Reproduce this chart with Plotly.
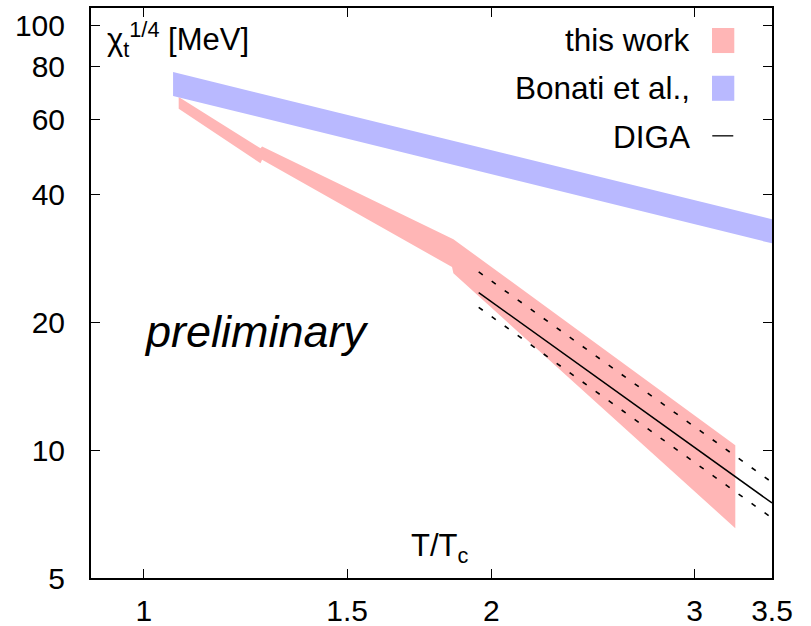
import numpy as np
import plotly.graph_objects as go

# ---------------- data ----------------
# this work: lattice band (T/Tc, lower, upper)  [MeV]
pink_T  = [1.072, 1.262, 1.266, 1.849, 1.854, 3.253]
pink_lo = [63.7, 47.4, 48.3, 27.0, 26.1, 6.55]
pink_hi = [67.9, 51.4, 51.9, 31.4, 31.4, 10.27]

# Bonati et al. band
bonati_T  = [1.060, 2.0, 3.5]
bonati_lo = [68.3, 44.7, 30.7]
bonati_hi = [77.7, 50.9, 35.0]

# DIGA: central line and uncertainty lines
diga_T  = [1.95, 3.5]
diga_c  = [23.5, 7.51]
diga_hi = [26.3, 8.40]
diga_lo = [21.7, 6.92]

x_ticks = [1, 1.5, 2, 3, 3.5]
y_ticks = [5, 10, 20, 40, 60, 80, 100]

PINK = "#ffb6b6"
BLUE = "#b9b9ff"
FONT = "Liberation Sans, Arial, Helvetica, sans-serif"

fig = go.Figure()

# pink band
fig.add_trace(go.Scatter(
    x=pink_T + pink_T[::-1], y=pink_hi + pink_lo[::-1],
    fill="toself", fillcolor=PINK, line=dict(width=0, color=PINK),
    mode="lines", showlegend=False, hoverinfo="skip"))

# blue band
fig.add_trace(go.Scatter(
    x=bonati_T + bonati_T[::-1], y=bonati_hi + bonati_lo[::-1],
    fill="toself", fillcolor=BLUE, line=dict(width=0, color=BLUE),
    mode="lines", showlegend=False, hoverinfo="skip"))

# DIGA lines
fig.add_trace(go.Scatter(x=diga_T, y=diga_c, mode="lines",
                         line=dict(color="black", width=1.5), showlegend=False))
for yy in (diga_hi, diga_lo):
    fig.add_trace(go.Scatter(x=diga_T, y=yy, mode="lines",
                             line=dict(color="black", width=1.6, dash="5px,11px"),
                             showlegend=False))

# ---------------- layout ----------------
W, H = 811, 626
L, R, T, B = 91, 39.3, 8.3, 48.3
pw, ph = W - L - R, H - T - B

def px(xp):
    return (xp - L) / pw

def py(yp):
    return (H - B - yp) / ph

fig.update_layout(
    width=W, height=H,
    margin=dict(l=L, r=R, t=T, b=B, pad=0, autoexpand=False),
    paper_bgcolor="white", plot_bgcolor="white",
    font=dict(family=FONT, size=30, color="black"),
    showlegend=False,
)

fig.update_xaxes(
    type="log", range=[np.log10(0.9), np.log10(3.5)],
    tickvals=x_ticks, ticktext=[str(v) for v in x_ticks],
    ticks="inside", ticklen=9, tickwidth=1.3, tickcolor="black",
    showline=True, linewidth=2, linecolor="black", mirror="allticks",
    showgrid=False, zeroline=False, ticklabelstandoff=5, automargin=False,
    tickfont=dict(size=30, family=FONT))
fig.update_yaxes(
    type="log", range=[np.log10(5), np.log10(110)],
    tickvals=y_ticks, ticktext=[str(v) for v in y_ticks],
    ticks="inside", ticklen=9, tickwidth=1.3, tickcolor="black",
    showline=True, linewidth=2, linecolor="black", mirror="allticks",
    showgrid=False, zeroline=False, ticklabelstandoff=18, automargin=False,
    tickfont=dict(size=30, family=FONT))

ann = []
# y-axis label inside plot
ann.append(dict(x=px(105), y=py(64), xref="paper", yref="paper",
                xanchor="left", yanchor="bottom", showarrow=False,
                text="χ<sub>t</sub><sup>1/4</sup> [MeV]",
                font=dict(size=31, family=FONT)))
# x-axis label inside plot
ann.append(dict(x=px(409), y=py(570), xref="paper", yref="paper",
                xanchor="left", yanchor="bottom", showarrow=False,
                text="T/T<sub>c</sub>", font=dict(size=31, family=FONT)))
# preliminary
ann.append(dict(x=px(256.7), y=py(331), xref="paper", yref="paper",
                xanchor="center", yanchor="middle", showarrow=False,
                text="<i>preliminary</i>", font=dict(size=45, family=FONT)))

# manual legend (symbols on the right, like the original)
leg_items = [("this work", 40.5), ("Bonati et al.,", 88.5), ("DIGA", 137)]
for txt, yc in leg_items:
    ann.append(dict(x=px(692), y=py(yc), xref="paper", yref="paper",
                    xanchor="right", yanchor="middle", showarrow=False,
                    text=txt, font=dict(size=31.5, family=FONT)))
fig.update_layout(annotations=ann)

shapes = [
    dict(type="rect", xref="paper", yref="paper",
         x0=px(711.7), x1=px(734), y0=py(53.3), y1=py(28.3),
         fillcolor=PINK, line=dict(width=0)),
    dict(type="rect", xref="paper", yref="paper",
         x0=px(711.7), x1=px(734), y0=py(101), y1=py(76),
         fillcolor=BLUE, line=dict(width=0)),
    dict(type="line", xref="paper", yref="paper",
         x0=px(712), x1=px(733), y0=py(136), y1=py(136),
         line=dict(color="black", width=1.3)),
]
fig.update_layout(shapes=shapes)

fig.write_html("out.html")
